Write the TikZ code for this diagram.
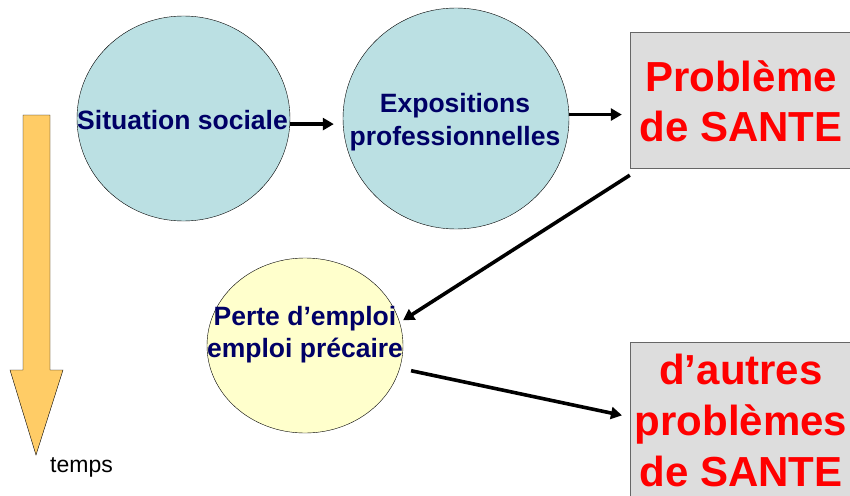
\documentclass[tikz,border=0pt]{standalone}
\usepackage{fontspec}
\setmainfont{Liberation Sans}
\usetikzlibrary{shapes.geometric,arrows.meta,positioning}
\definecolor{bleuclair}{HTML}{BBE0E3}
\definecolor{jaunepale}{HTML}{FFFFCC}
\definecolor{grisclair}{HTML}{DDDDDD}
\definecolor{marine}{HTML}{000066}
\definecolor{ocre}{HTML}{FFCC66}
\begin{document}
\begin{tikzpicture}[x=1pt, y=-1pt,
    bulle/.style={ellipse, draw, thin, inner sep=0pt},
    texte/.style={font=\fontsize{26.5}{33}\selectfont\bfseries, text=marine, align=center, inner sep=0pt},
    sante/.style={rectangle, draw=black!60, fill=grisclair, minimum width=220pt, inner sep=0pt},
    rouge/.style={font=\fontsize{42}{50}\selectfont\bfseries, text=red, align=center, inner sep=0pt},
    fl/.style={line width=3.2pt, -{Triangle[length=11pt,width=12pt]}}]
  \useasboundingbox (0,0) rectangle (850,495);
  % fleche du temps
  \draw[thin, fill=ocre] (23,115) -- (50,115) -- (50,370) -- (63,370) -- (36,455)
    -- (10,370) -- (23,370) -- cycle;
  \node[anchor=base west, font=\fontsize{23}{27}\selectfont, inner sep=0pt] (temps) at (50,472) {temps};
  % bulles
  \node[bulle, fill=bleuclair, minimum width=213pt, minimum height=205pt] (sit) at (183.5,118.5) {};
  \node[texte] (sit-t) at (182.5,120.5) {Situation sociale};
  \node[bulle, fill=bleuclair, minimum width=226pt, minimum height=221pt] (expo) at (456,118.5) {};
  \node[texte] (expo-t) at (455,122.5) {Expositions\\professionnelles};
  \node[bulle, fill=jaunepale, minimum width=196pt, minimum height=175pt] (perte) at (305,345.5) {};
  \node[texte, font=\fontsize{26.5}{32}\selectfont\bfseries] (perte-t) at (305,335) {Perte d'emploi\\emploi précaire};
  % cadres
  \node[sante, minimum height=136pt] (prob) at (740,100) {};
  \node[rouge] (prob-t) at (741,101) {Problème\\de SANTE};
  \node[sante, minimum height=160pt] (autre) at (740,422) {};
  \node[rouge, font=\fontsize{42}{51}\selectfont\bfseries] (autre-t) at (741,420) {d'autres\\problèmes\\de SANTE};
  % liens
  \draw[fl, shorten >=9pt] (sit.-3) -- (sit.-3 -| expo.west);
  \draw[fl, shorten >=8pt] (expo.2) -- (expo.2 -| prob.west);
  \draw[fl, line width=3.6pt] ([yshift=-7pt]prob.south west) -- ([xshift=4pt]perte.15);
  \draw[fl, line width=3.6pt, shorten >=8pt] ([xshift=12pt]perte.-15) -- ([yshift=5pt]autre.west);
\end{tikzpicture}
\end{document}
